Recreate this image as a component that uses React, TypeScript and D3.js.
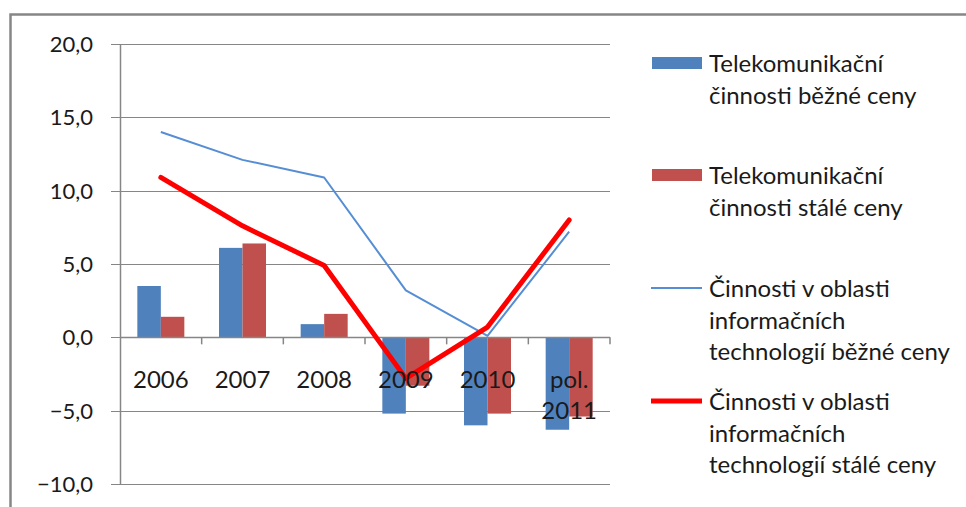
import * as d3 from "d3";

const categories = ["2006", "2007", "2008", "2009", "2010", "pol.\n2011"];
const telekoBezne = [3.5, 6.1, 0.9, -5.2, -6.0, -6.3];
const telekoStale = [1.4, 6.4, 1.6, -3.3, -5.2, -5.4];
const itBezne = [14.0, 12.1, 10.9, 3.2, 0.1, 7.2];
const itStale = [10.9, 7.6, 4.9, -2.8, 0.7, 8.0];
const yTicks = [-10, -5, 0, 5, 10, 15, 20];

const legendLabels = [
  ["Telekomunikační", "činnosti běžné ceny"],
  ["Telekomunikační", "činnosti stálé ceny"],
  ["Činnosti v oblasti", "informačních", "technologií běžné ceny"],
  ["Činnosti v oblasti", "informačních", "technologií stálé ceny"],
];

const BLUE = "#4F81BD";
const RED_BAR = "#C0504D";
const BLUE_LINE = "#558ED5";
const RED_LINE = "#FF0000";
const GRID = "#868686";
const FONT = "Lato, 'Open Sans', sans-serif";

export default function App() {
  const width = 966;
  const height = 507;
  const plot = { left: 120, right: 610, top: 44, bottom: 484 };

  const y = d3.scaleLinear().domain([-10, 20]).range([plot.bottom, plot.top]);
  const x0 = d3
    .scaleBand<string>()
    .domain(categories)
    .range([plot.left, plot.right])
    .paddingInner(0.4245)
    .paddingOuter(0.21225);
  const x1 = d3
    .scaleBand<string>()
    .domain(["bezne", "stale"])
    .range([0, x0.bandwidth()]);

  const fmt = (v: number) => d3.format(".1f")(v).replace(".", ",");
  const cx = (c: string) => (x0(c) || 0) + x0.bandwidth() / 2;

  const line = d3
    .line<number>()
    .x((_, i) => cx(categories[i]))
    .y((d) => y(d));

  const barSeries = [
    { key: "bezne", values: telekoBezne, color: BLUE },
    { key: "stale", values: telekoStale, color: RED_BAR },
  ];

  const step = x0.step();
  const catEdges = categories.map((_, i) => plot.left + step * (i + 1));

  const legendBase = [72, 184, 297, 410];
  const lineH = 31.5;

  return (
    <svg
      width={width}
      height={height}
      style={{ position: "absolute", left: 0, top: 0, background: "#fff" }}
    >
      <rect x={0} y={0} width={width} height={height} fill="#fff" />
      <rect
        x={10.5}
        y={14.5}
        width={1000}
        height={600}
        fill="none"
        stroke={GRID}
        strokeWidth={2.5}
      />

      {/* gridlines and y labels */}
      {yTicks.map((t) => (
        <g key={t}>
          <line
            x1={111}
            x2={plot.right}
            y1={Math.round(y(t)) + 0.5}
            y2={Math.round(y(t)) + 0.5}
            stroke={GRID}
            strokeWidth={1}
          />
          <text
            x={93}
            y={y(t)}
            dy="0.36em"
            textAnchor="end"
            fontFamily={FONT}
            fontSize={22}
            fill="#1a1a1a"
          >
            {fmt(t)}
          </text>
        </g>
      ))}
      <line
        x1={plot.left + 0.5}
        x2={plot.left + 0.5}
        y1={plot.top}
        y2={plot.bottom + 1}
        stroke={GRID}
        strokeWidth={1.5}
      />

      {/* bars */}
      {barSeries.map((s) =>
        s.values.map((v, i) => {
          const c = categories[i];
          const bx = (x0(c) || 0) + (x1(s.key) || 0);
          return (
            <rect
              key={s.key + i}
              x={bx}
              y={Math.min(y(v), y(0))}
              width={x1.bandwidth()}
              height={Math.abs(y(v) - y(0))}
              fill={s.color}
            />
          );
        })
      )}

      {/* zero axis with category ticks */}
      <line
        x1={plot.left}
        x2={plot.right}
        y1={Math.round(y(0)) + 0.5}
        y2={Math.round(y(0)) + 0.5}
        stroke={GRID}
        strokeWidth={1.5}
      />
      {catEdges.map((ex, i) => (
        <line
          key={i}
          x1={ex}
          x2={ex}
          y1={y(0)}
          y2={y(0) + 7}
          stroke={GRID}
          strokeWidth={1.5}
        />
      ))}

      {/* lines */}
      <path
        d={line(itBezne) || ""}
        fill="none"
        stroke={BLUE_LINE}
        strokeWidth={2}
        strokeLinejoin="round"
      />
      <path
        d={line(itStale) || ""}
        fill="none"
        stroke={RED_LINE}
        strokeWidth={5}
        strokeLinejoin="round"
        strokeLinecap="round"
      />

      {/* category labels */}
      {categories.map((c) => (
        <text
          key={c}
          x={cx(c)}
          y={388}
          textAnchor="middle"
          fontFamily={FONT}
          fontSize={24}
          fill="#1a1a1a"
        >
          {c.split("\n").map((part, j) => (
            <tspan key={j} x={cx(c)} dy={j === 0 ? 0 : 31}>
              {part}
            </tspan>
          ))}
        </text>
      ))}

      {/* legend */}
      {legendLabels.map((lines, i) => {
        const base = legendBase[i];
        const mid = base - 9;
        return (
          <g key={i}>
            {i < 2 ? (
              <rect
                x={652}
                y={mid - 6}
                width={50}
                height={12}
                fill={i === 0 ? BLUE : RED_BAR}
              />
            ) : (
              <line
                x1={651}
                x2={702}
                y1={mid}
                y2={mid}
                stroke={i === 2 ? BLUE_LINE : RED_LINE}
                strokeWidth={i === 2 ? 2 : 5}
              />
            )}
            <text
              x={709}
              y={base}
              fontFamily={FONT}
              fontSize={24}
              fill="#1a1a1a"
            >
              {lines.map((l, j) => (
                <tspan key={j} x={709} y={base + j * lineH}>
                  {l}
                </tspan>
              ))}
            </text>
          </g>
        );
      })}
    </svg>
  );
}
